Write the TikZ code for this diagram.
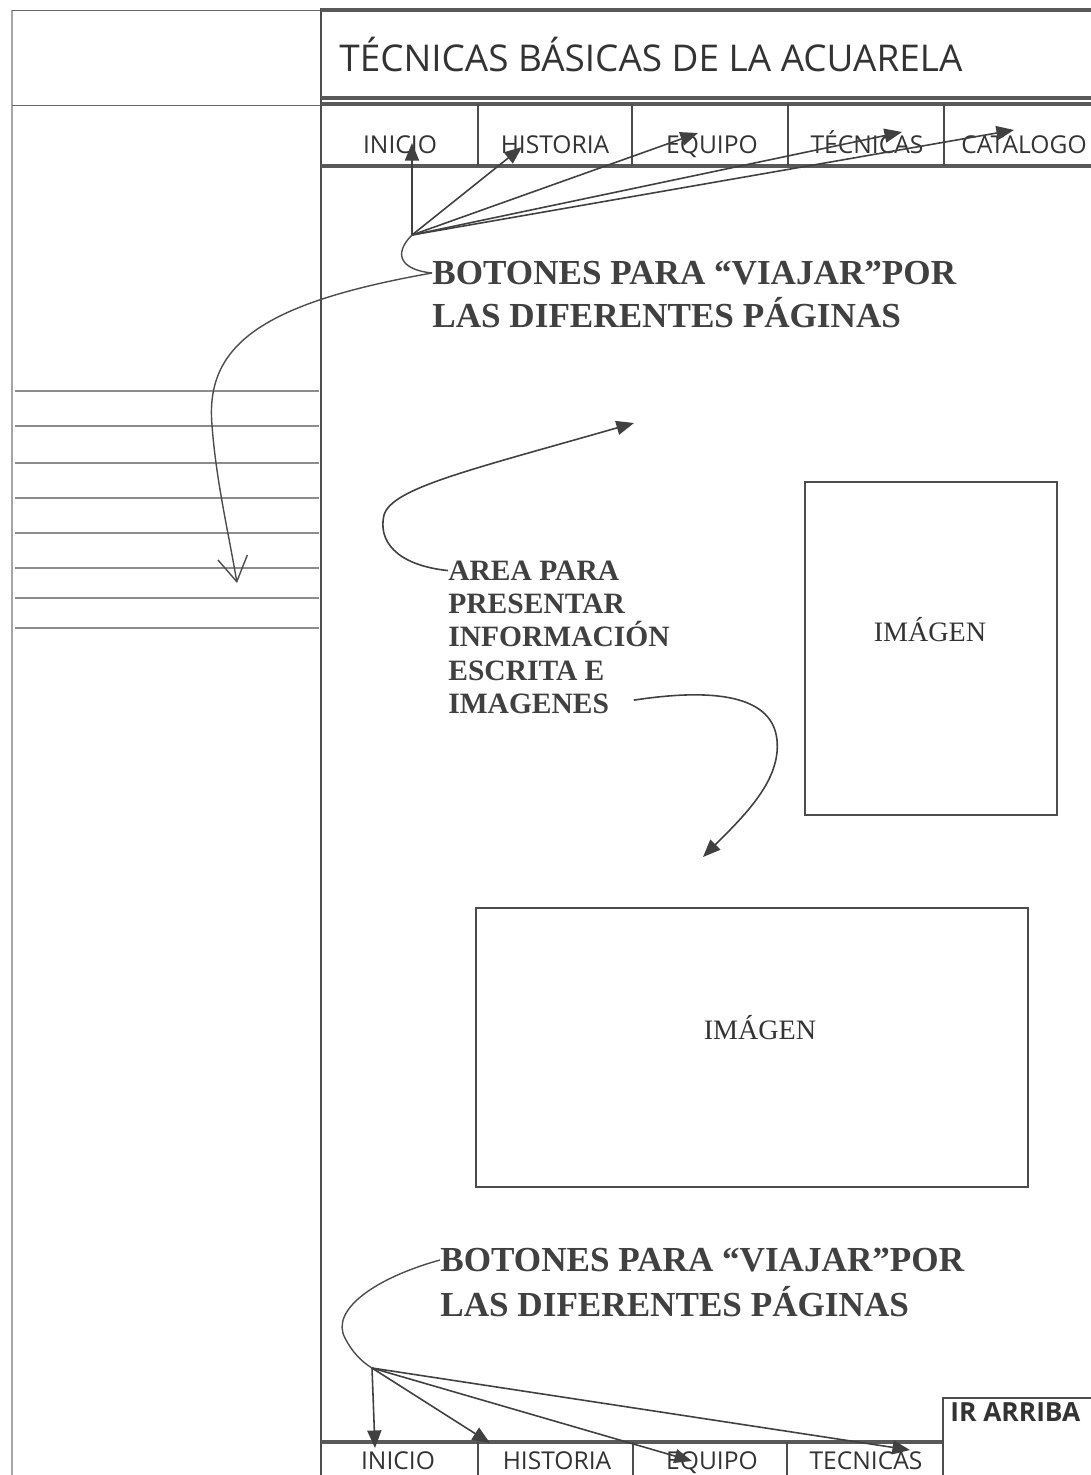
\documentclass[tikz,border=0pt]{standalone}
\usepackage{fontspec}
\setmainfont{Liberation Serif}
\newfontfamily\comic{Open Sans}
\usetikzlibrary{arrows.meta}

\tikzset{
  raya/.style={draw=black!70, line width=0.8pt},
  gruesa/.style={draw=black!65, line width=2pt},
  hoja/.style={draw=black!45, line width=0.7pt},
  flecha/.style={draw=black!75, line width=0.9pt, -{Triangle[length=10pt,width=8pt]}},
  boton/.style={font=\comic\fontsize{14}{16}\selectfont, text=black!80, inner sep=0pt, anchor=base},
  titulo/.style={font=\comic\fontsize{21}{24}\selectfont, text=black!80, inner sep=0pt},
  aviso/.style={font=\bfseries\fontsize{20}{23}\selectfont, text=black!75, inner sep=0pt},
  area/.style={font=\bfseries\fontsize{16.8}{19}\selectfont, text=black!75, inner sep=0pt, anchor=base west},
  imagen/.style={font=\fontsize{16}{18}\selectfont, text=black!80, inner sep=0pt}
}

\begin{document}
\begin{tikzpicture}[x=0.02cm,y=-0.02cm]
\useasboundingbox (0,0) rectangle (1091,1475);

% columna izquierda
\draw[black!35, line width=1pt] (12,10) -- (12,1475);
\draw[black!60] (12,10) -- (320,10);
\draw[black!60] (12,105) -- (320,105);
\foreach \y in {391,426,463,498,533,568,598,628}
  \draw[hoja] (15,\y) -- (319,\y);
\draw[black!70, line width=1.5pt] (321,8) -- (321,1475);

% cabecera
\draw[gruesa] (321,10) -- (1091,10);
\draw[gruesa] (321,98) -- (1091,98);
\node[titulo, anchor=west] (tit) at (339,54) {TÉCNICAS BÁSICAS DE LA ACUARELA};

% menu de arriba
\draw[gruesa] (321,104) -- (1091,104);
\draw[gruesa] (321,166) -- (1091,166);
\foreach \x in {478,632,788,944}
  \draw[raya] (\x,104) -- (\x,166);
\node[boton] (n-ini) at (400,153) {INICIO};
\node[boton] (n-his) at (555,153) {HISTORIA};
\node[boton] (n-equ) at (712,153) {EQUIPO};
\node[boton] (n-tec) at (867,153) {TÉCNICAS};
\node[boton] (n-cat) at (1024,153) {CATALOGO};

\coordinate (o1) at (412,235);
\coordinate (p-ini) at (412,143);
\coordinate (p-his) at (522,147);
\coordinate (p-equ) at (698,133);
\coordinate (p-tec) at (902,132);
\coordinate (p-cat) at (1014,130);
\foreach \p in {ini,his,equ,tec,cat}
  \draw[flecha] (o1) -- (p-\p);

\node[aviso, anchor=west] (bot1a) at (432,273) {BOTONES PARA “VIAJAR”POR};
\node[aviso, anchor=west] (bot1b) at (432,313) {LAS DIFERENTES PÁGINAS};

\draw[raya] (o1) .. controls (392,255) and (402,270) .. (bot1a.west);
\coordinate (v1) at (237,583);
\draw[raya, -{Straight Barb[length=14pt,width=17pt]}] (bot1a.west)
  .. controls (262,303) and (205,345) .. (212,425)
  .. controls (216,480) and (228,530) .. (v1);

% area de informacion
\foreach \t [count=\i] in {AREA PARA,PRESENTAR,INFORMACIÓN,ESCRITA E,IMAGENES}
  \node[area] (area\i) at (448,547+33.3*\i) {\t};
\coordinate (p-up) at (634,423);
\coordinate (p-dn) at (703,857);
\draw[flecha] (area1.west) .. controls (395,565) and (378,540) .. (384,515)
  .. controls (392,488) and (470,470) .. (p-up);
\draw[flecha, shorten <=14pt] (area5.east) .. controls (700,690) and (772,690) .. (777,740)
  .. controls (781,780) and (745,815) .. (p-dn);

% imagenes
\draw[raya] (805,482) rectangle (1057,815);
\node[imagen] (img1) at (930,630) {IMÁGEN};
\draw[raya] (476,908) rectangle (1028,1187);
\node[imagen] (img2) at (760,1028) {IMÁGEN};

% pie
\node[aviso, anchor=west] (bot2a) at (440,1260) {BOTONES PARA “VIAJAR”POR};
\node[aviso, anchor=west] (bot2b) at (440,1302) {LAS DIFERENTES PÁGINAS};

\draw[gruesa] (321,1442) -- (943,1442);
\foreach \x in {478,633,787}
  \draw[raya] (\x,1442) -- (\x,1475);
\draw[raya] (943,1475) -- (943,1398) -- (1091,1398);
\node[boton, font=\comic\fontsize{15}{17}\selectfont\bfseries, anchor=west] (arriba) at (950,1412) {IR ARRIBA};
\node[boton] (b-ini) at (398,1469) {INICIO};
\node[boton] (b-his) at (557,1469) {HISTORIA};
\node[boton] (b-equ) at (712,1469) {EQUIPO};
\node[boton] (b-tec) at (866,1469) {TECNICAS};

\coordinate (o2) at (372,1368);
\draw[raya] (bot2a.west) .. controls (375,1278) and (330,1310) .. (345,1338)
  .. controls (352,1352) and (362,1362) .. (o2);
\coordinate (q-ini) at (375,1448);
\coordinate (q-his) at (490,1443);
\coordinate (q-equ) at (692,1461);
\coordinate (q-tec) at (910,1450);
\foreach \q in {ini,his,equ,tec}
  \draw[flecha] (o2) -- (q-\q);

\end{tikzpicture}
\end{document}
